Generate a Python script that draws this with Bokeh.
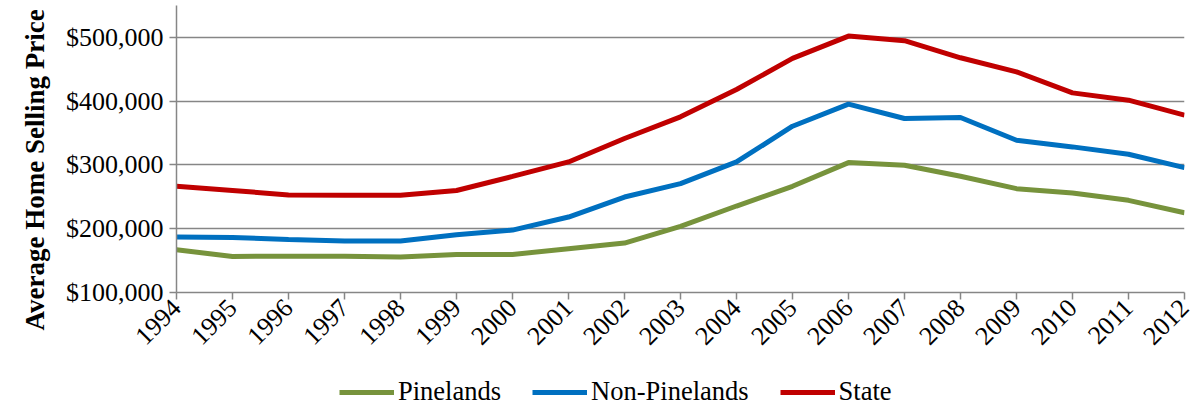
from bokeh.plotting import figure
from bokeh.models import Range1d, FixedTicker, NumeralTickFormatter, Legend, LegendItem, Title
from bokeh.layouts import column
from bokeh.embed import file_html
from bokeh.resources import INLINE
import math

years = list(range(1994, 2013))
pinelands = [167000, 156500, 157000, 157000, 155500, 159700, 159700, 168600, 177500, 203700,
             235600, 266500, 303700, 299500, 282200, 262800, 256000, 244500, 225000]
non_pinelands = [186900, 186400, 183200, 180600, 180600, 190600, 197900, 218300, 249700, 270700,
                 304700, 360700, 395300, 372800, 374300, 338700, 328300, 316800, 295800]
state = [266500, 260000, 252900, 252400, 252400, 260000, 282000, 304700, 341400, 375400,
         418300, 467000, 502000, 494800, 468000, 446000, 413000, 401600, 378000]
y_ticks = [100000, 200000, 300000, 400000, 500000]

FONT = "Liberation Serif"
GRAY = "#868686"

p = figure(frame_width=1008, frame_height=287, output_backend="svg", toolbar_location=None,
           x_range=Range1d(1994, 2012), y_range=Range1d(100000, 550000),
           min_border_top=5, min_border_right=12, min_border_left=176, min_border_bottom=0)
p.outline_line_color = None
p.xgrid.grid_line_color = None
p.ygrid.grid_line_color = GRAY
p.ygrid.grid_line_width = 1.5
p.ygrid.ticker = FixedTicker(ticks=y_ticks)

series = [("Pinelands", pinelands, "#77933C"),
          ("Non-Pinelands", non_pinelands, "#0070C0"),
          ("State", state, "#C00000")]
for name, vals, col in series:
    p.line(years, vals, line_color=col, line_width=5)

p.xaxis.ticker = FixedTicker(ticks=years)
p.xaxis.major_label_orientation = math.pi / 4
p.yaxis.ticker = FixedTicker(ticks=y_ticks)
p.yaxis.formatter = NumeralTickFormatter(format="$0,0")
for ax in (p.xaxis, p.yaxis):
    ax.axis_line_color = GRAY
    ax.axis_line_width = 1.5
    ax.major_tick_line_color = GRAY
    ax.major_tick_line_width = 1.5
    ax.major_tick_out = 7
    ax.major_tick_in = 0
    ax.minor_tick_line_color = None
    ax.major_label_text_font = FONT
    ax.major_label_text_font_size = "26px"
    ax.major_label_text_color = "black"
p.xaxis.major_label_standoff = 4
p.yaxis.major_label_standoff = 6

ylab = Title(text="Average Home Selling Price", align="left", offset=-38,
             text_font=FONT, text_font_style="bold", text_font_size="27px",
             text_color="black", standoff=26)
p.add_layout(ylab, "left")

# legend strip below the chart
p2 = figure(width=1196, height=54, output_backend="svg", toolbar_location=None,
            x_range=Range1d(0, 1), y_range=Range1d(0, 1),
            x_axis_type=None, y_axis_type=None,
            min_border_top=0, min_border_right=0, min_border_left=0, min_border_bottom=0)
p2.outline_line_color = None
p2.grid.grid_line_color = None
items = []
for name, vals, col in series:
    r = p2.line(years, vals, line_color=col, line_width=5, visible=False)
    items.append(LegendItem(label=name, renderers=[r]))

legend = Legend(items=items, orientation="horizontal", location=(163, 2),
                label_text_font=FONT, label_text_font_size="26.5px",
                label_text_color="black", inactive_fill_alpha=0,
                glyph_width=55, glyph_height=20, spacing=31, label_standoff=4,
                border_line_color=None, background_fill_alpha=0, padding=0, margin=0)
p2.add_layout(legend, "center")

layout = column(p, p2, spacing=0)
open("out.html", "w").write(file_html(layout, INLINE))
